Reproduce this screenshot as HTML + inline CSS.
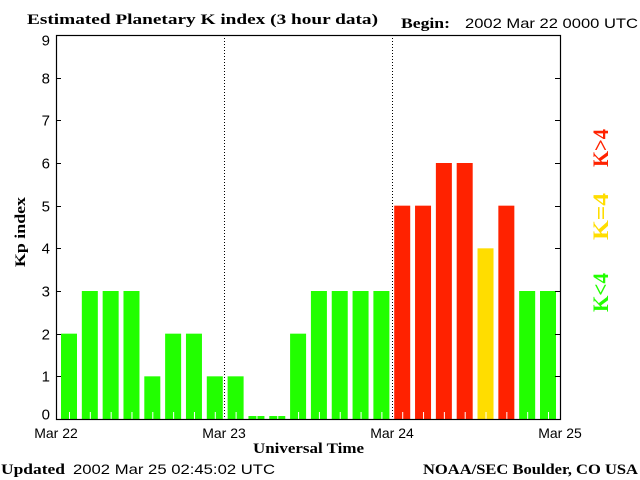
<!DOCTYPE html>
<html><head><meta charset="utf-8"><style>
body{margin:0;background:#fff;width:640px;height:480px;overflow:hidden}
svg{display:block}
.serif{font-family:"Liberation Serif",serif;font-weight:bold}
.sans{font-family:"Liberation Sans",sans-serif}
</style></head><body>
<svg id="chart" width="640" height="480">
<text class="serif" x="27" y="24" font-size="15" textLength="351" lengthAdjust="spacingAndGlyphs">Estimated Planetary K index (3 hour data)</text>
<text class="serif" x="401" y="28" font-size="15" textLength="49" lengthAdjust="spacingAndGlyphs">Begin:</text>
<text class="sans" x="465" y="28" font-size="14" textLength="173" lengthAdjust="spacingAndGlyphs">2002 Mar 22 0000 UTC</text>
<text class="serif" x="-267" y="25" font-size="15" textLength="70" lengthAdjust="spacingAndGlyphs" transform="rotate(-90)">Kp index</text>
<text class="serif" x="253" y="453" font-size="15" textLength="111" lengthAdjust="spacingAndGlyphs">Universal Time</text>
<text class="serif" x="1" y="474" font-size="15" textLength="64" lengthAdjust="spacingAndGlyphs">Updated</text>
<text class="sans" x="73" y="474" font-size="14" textLength="202" lengthAdjust="spacingAndGlyphs">2002 Mar 25 02:45:02 UTC</text>
<text class="serif" x="423" y="474" font-size="15" textLength="215" lengthAdjust="spacingAndGlyphs">NOAA/SEC Boulder, CO USA</text>
<text class="serif" font-size="22" fill="#ff2200" x="-167" y="608" textLength="38" lengthAdjust="spacingAndGlyphs" transform="rotate(-90)">K&gt;4</text>
<text class="serif" font-size="22" fill="#ffdd00" x="-240" y="608" textLength="47" lengthAdjust="spacingAndGlyphs" transform="rotate(-90)">K=4</text>
<text class="serif" font-size="22" fill="#22ff00" x="-312" y="608" textLength="39" lengthAdjust="spacingAndGlyphs" transform="rotate(-90)">K&lt;4</text>
<g id="plot"></g>
</svg>
<script>
const kpValues=[2,3,3,3,1,2,2,1,1,0.07,0.07,2,3,3,3,3,5,5,6,6,4,5,3,3];
const yTicks=[0,1,2,3,4,5,6,7,8,9];
const dayLabels=["Mar 22","Mar 23","Mar 24","Mar 25"];
const L=56,R=560,T=35,B=419;
const y=v=>B-v*(B-T)/9;
const xDay=d=>L+d*(R-L)/3;
const xBar=i=>61+i*(479/(kpValues.length-1));
const BW=16;
const g=document.getElementById('plot');
const NS='http://www.w3.org/2000/svg';
function mk(t,a){const e=document.createElementNS(NS,t);for(const k in a)e.setAttribute(k,a[k]);g.appendChild(e);return e;}
kpValues.forEach((v,i)=>{
 const c=v>4?'#ff2200':(v===4?'#ffdd00':'#22ff00');
 const r=mk('rect',{x:xBar(i),y:y(v),width:BW,height:B-y(v),fill:c});
 
 
 const tk=mk('line',{x1:xBar(i)+8.5,x2:xBar(i)+8.5,y1:B,y2:B-7,stroke:'#fff','stroke-width':1});
 
 
});
[1,2].forEach(d=>{
 const l=mk('line',{x1:xDay(d)+0.5,x2:xDay(d)+0.5,y1:T,y2:B,stroke:'#000','stroke-dasharray':'1,2'});
 
 
});
const frame=mk('rect',{x:L+0.5,y:T+0.5,width:R-L,height:B-T,fill:'none',stroke:'#000','stroke-width':1.2});


yTicks.forEach(v=>{
 const yy=Math.round(y(v))+0.5;
 mk('line',{x1:L,x2:L+5,y1:yy,y2:yy,stroke:'#000'});
 mk('line',{x1:R-5,x2:R,y1:yy,y2:yy,stroke:'#000'});
 const t=mk('text',{x:L-6,y:yy+(v===0?0:5)+(v===9?5:0),'font-size':15,'text-anchor':'end','font-family':'Liberation Sans, sans-serif'});
 t.textContent=v;
 
 
});
dayLabels.forEach((s,d)=>{
 const t=mk('text',{x:xDay(d),y:438,'font-size':14,'text-anchor':'middle','font-family':'Liberation Sans, sans-serif'});
 t.textContent=s;
 
 
});
</script>
</body></html>
